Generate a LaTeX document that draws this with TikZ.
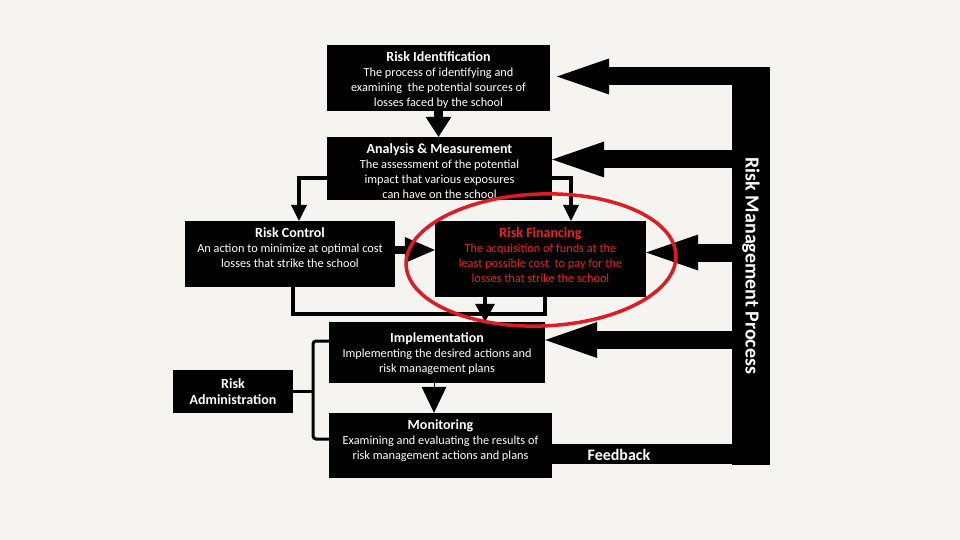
\documentclass[tikz,border=0pt]{standalone}
\usepackage{fontspec}
\setmainfont{Carlito}
\usetikzlibrary{arrows.meta,calc,positioning}
\definecolor{paper}{RGB}{245,244,240}
\definecolor{finred}{RGB}{228,36,36}
\definecolor{ringred}{RGB}{222,28,34}
\newcommand{\boxtitle}[1]{{\fontsize{14}{16}\selectfont\bfseries #1}}
\tikzset{
  box/.style={fill=black,rectangle,inner sep=0pt},
  box-txt/.style={anchor=north,align=center,text=white,inner xsep=0pt,inner ysep=7pt,font=\fontsize{12.3}{14.8}\selectfont},
  conn/.style={line width=4,black},
  conn-arr/.style={conn,-{Triangle[length=16pt,width=16pt,line width=0pt]}},
  drop-arr/.style={conn,-{Triangle[length=18pt,width=20pt,line width=0pt]}},
  big-arr/.style={line width=9,-{Triangle[length=20pt,width=26pt,line width=0pt]}},
  side-arr/.style={line width=8,-{Triangle[length=30pt,width=26pt,line width=0pt]}},
  head-arr/.style={line width=1,-{Triangle[length=26pt,width=25pt,line width=0pt]}},
  fb/.style={line width=18,-{Triangle[length=52pt,width=36pt,line width=0pt]}},
  fb-band/.style={line width=20},
  brk/.style={line width=3,rounded corners=3},
  ring/.style={draw=ringred,line width=3.5},
  band/.style={fill=black,inner sep=0pt},
  band-txt/.style={text=white,inner sep=0pt,font=\fontsize{20}{24}\selectfont\bfseries},
  fb-txt/.style={text=white,inner sep=0pt,font=\fontsize{16}{18}\selectfont\bfseries},
}

\begin{document}
\begin{tikzpicture}[x=1pt,y=-1pt]
  \useasboundingbox[fill=paper] (0,0) rectangle (960,540);

  % boxes
  \node[box,minimum width=223,minimum height=66] (ri)  at (438.5,78)    {};
  \node[box,minimum width=225,minimum height=63] (am)  at (439.5,168.5) {};
  \node[box,minimum width=210,minimum height=66] (rc)  at (290,254)     {};
  \node[box,minimum width=211,minimum height=76] (rf)  at (540.5,259)   {};
  \node[box,minimum width=216,minimum height=61] (imp) at (437,352.5)   {};
  \node[box,minimum width=223,minimum height=65] (mon) at (440.5,445.5) {};
  \node[box,minimum width=120,minimum height=43] (adm) at (233,391.5)   {};

  % box texts
  \node[box-txt] (ri-txt) at (ri.north) {\boxtitle{Risk Identification}\\
    The process of identifying and\\ examining\ \ the potential sources of\\ losses faced by the school};
  \node[box-txt] (am-txt) at (am.north) {\boxtitle{Analysis \& Measurement}\\
    The assessment of the potential\\ impact that various exposures\\ can have on the school};
  \node[box-txt] (rc-txt) at (rc.north) {\boxtitle{Risk Control}\\
    An action to minimize at optimal cost\\ losses that strike the school};
  \node[box-txt,text=finred] (rf-txt) at (rf.north) {\boxtitle{Risk Financing}\\
    The acquisition of funds at the\\ least possible cost\ \ to pay for the\\ losses that strike the school};
  \node[box-txt,yshift=-4pt] (imp-txt) at (imp.north) {\boxtitle{Implementation}\\
    Implementing the desired actions and\\ risk management plans};
  \node[box-txt] (mon-txt) at (mon.north) {\boxtitle{Monitoring}\\
    Examining and evaluating the results of\\ risk management actions and plans};
  \node[box-txt,anchor=center,inner ysep=0pt] (adm-txt) at (adm) {\boxtitle{Risk}\\[1pt] \boxtitle{Administration}};

  % flow
  \draw[big-arr] (ri.south) -- (ri.south |- am.north);
  \draw[conn-arr] (am.west |- 0,178) -| (rc.north -| 299,0);
  \draw[conn-arr] (am.east |- 0,178) -| (rf.north -| 571,0);
  \draw[side-arr] (rc.east |- 0,250) -- (rf.west |- 0,250);
  \draw[conn] (rc.south -| 293,0) |- (545,314) -- (rf.south -| 545,0);
  \draw[drop-arr] (rf.south -| 485,0) -- (imp.north -| 485,0);
  \draw[head-arr] (imp.south -| 434,0) -- (mon.north -| 434,0);

  % administration bracket
  \draw[brk] (imp.west |- 0,341) -| (313,390) |- (mon.west |- 0,439);
  \draw[brk] (adm.east) -- (adm.east -| 313,0);

  % feedback loop
  \node[band,minimum width=38,minimum height=398] (rmp) at (751,266) {};
  \coordinate (ri-in) at (557,76.5);
  \draw[fb-band] (mon.east |- 0,454) -- (rmp.center |- 0,454);
  \node[fb-txt] (fbk) at (619,455) {Feedback};
  \draw[fb] (rmp.center |- ri-in) -- (ri-in);
  \draw[fb] (rmp.center |- 0,159.5) -- (am.east |- 0,159.5);
  \draw[fb] (rmp.center |- 0,252.5) -- (rf.east |- 0,252.5);
  \draw[fb] (rmp.center |- 0,340) -- (imp.east |- 0,340);
  \node[band-txt,rotate=-90] (rmp-txt) at (rmp) {Risk Management Process};

  % highlight
  \draw[ring,rotate around={2:(541,260)}] (541,260) ellipse [x radius=135,y radius=66];
\end{tikzpicture}
\end{document}
